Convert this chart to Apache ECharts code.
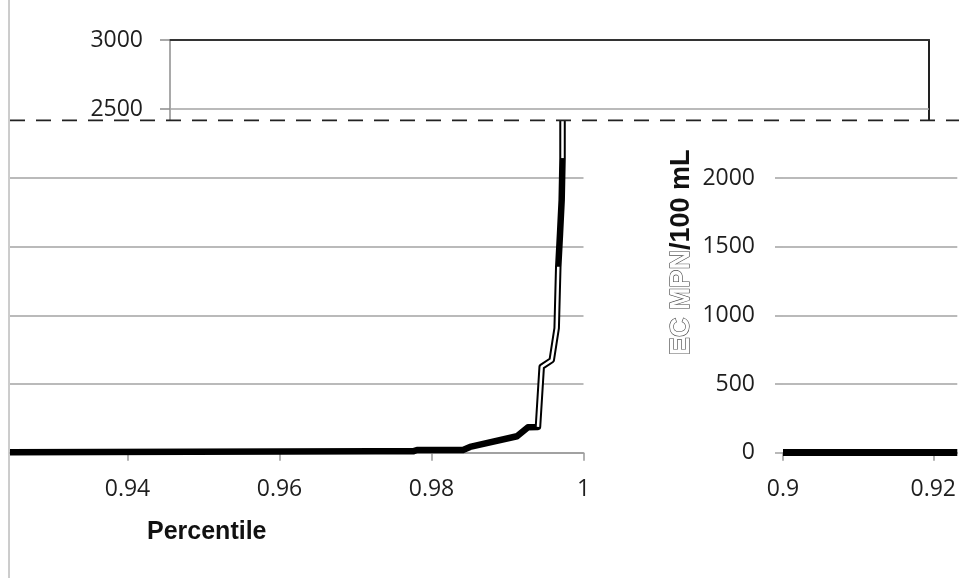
<!DOCTYPE html>
<html>
<head>
<meta charset="utf-8">
<title>EC MPN percentile</title>
<script src="https://cdn.jsdelivr.net/npm/echarts@6/dist/echarts.min.js"></script>
<style>
  html, body { margin: 0; padding: 0; background: #fff; }
  #chart { width: 959px; height: 578px; }
</style>
</head>
<body>
<div id="chart"></div>
<script>
// cumulative curve, percentile vs EC MPN/100 mL
const percentile = [0.92454, 0.97257, 0.97757, 0.97809, 0.98414, 0.98507, 0.99125, 0.99270, 0.99401,
  0.99450, 0.99582, 0.99647, 0.99668, 0.99691, 0.99713, 0.99724, 0.99724];
const ecMpn = [3, 10, 10, 20, 20, 42, 120, 185, 188,
  626, 674, 907, 1354, 1594, 1841, 2145, 2420];

// right hand panel, flat near zero
const rightPercentile = [0.9, 0.9232];
const rightMpn = [1, 1];

// upper detection limit (dashed)
const detectionLimit = 2420;

const leftTicks = [0.94, 0.96, 0.98, 1];
const rightTicks = [0.9, 0.92];
const topTicks = [2500, 3000];

const zip = (xs, ys) => xs.map((x, i) => [x, ys[i]]);
const curve = zip(percentile, ecMpn);

const plain = v => String(v);
const labelFont = { fontFamily: 'Open Sans', fontSize: 23, color: '#1e1e1e', formatter: plain };
const gridGray = '#a3a3a3';

const chart = echarts.init(document.getElementById('chart'));
chart.setOption({
  animation: false,
  backgroundColor: '#fff',
  title: {
    text: 'Percentile',
    left: 142,
    top: 515,
    textStyle: { fontFamily: 'Liberation Sans', fontWeight: 'bold', fontSize: 25, color: '#111' }
  },
  graphic: [{
    type: 'line',
    shape: { x1: 9, y1: 0, x2: 9, y2: 578 },
    style: { stroke: '#9a9a9a', lineWidth: 1 }
  }],
  grid: [
    { left: 10, top: 178, width: 573.5, height: 274.7 },   // left panel
    { left: 783, top: 178, right: 0, height: 274.7 },       // right panel
    { left: 170, top: 40, width: 759, height: 80 },         // top box
    { left: 10, top: 109.3, right: 0, height: 343.4 },      // dashed limit, full width
    { left: 783, top: 46, right: 0, height: 412.7 }         // y axis name
  ],
  xAxis: [
    {
      type: 'value', gridIndex: 0, min: 0.92454, max: 1,
      axisLine: { lineStyle: { color: '#999', width: 1.5 } },
      axisTick: { customValues: leftTicks, length: 8, lineStyle: { color: '#999', width: 1.5 } },
      axisLabel: Object.assign({ customValues: leftTicks, margin: 25 }, labelFont),
      splitLine: { show: false }
    },
    {
      type: 'value', gridIndex: 1, min: 0.9, max: 0.9232,
      axisLine: { lineStyle: { color: '#999', width: 1.5 } },
      axisTick: { customValues: rightTicks, length: 8, lineStyle: { color: '#999', width: 1.5 } },
      axisLabel: Object.assign({ customValues: rightTicks, margin: 25 }, labelFont),
      splitLine: { show: false }
    },
    { type: 'value', gridIndex: 2, min: 0, max: 1, show: false },
    {
      type: 'value', gridIndex: 2, min: 0, max: 1, position: 'top',
      axisLine: { onZero: false, lineStyle: { color: '#333', width: 2 } },
      axisTick: { show: false }, axisLabel: { show: false }, splitLine: { show: false }
    },
    { type: 'value', gridIndex: 3, min: 0, max: 1, show: false },
    { type: 'value', gridIndex: 4, min: 0, max: 1, show: false }
  ],
  yAxis: [
    {
      type: 'value', gridIndex: 0, min: 0, max: 2000, interval: 500,
      axisLine: { show: false }, axisTick: { show: false }, axisLabel: { show: false },
      splitLine: { lineStyle: { color: gridGray, width: 1.5 } }
    },
    {
      type: 'value', gridIndex: 1, min: 0, max: 2000, interval: 500,
      axisLine: { show: false },
      axisTick: { show: true, length: 8, lineStyle: { color: gridGray, width: 1.5 } },
      axisLabel: Object.assign({ margin: 28 }, labelFont),
      splitLine: { lineStyle: { color: gridGray, width: 1.5 } }
    },
    {
      type: 'value', gridIndex: 2, min: 2420, max: 3000,
      axisLine: { show: true, onZero: false, lineStyle: { color: '#8c8c8c', width: 1.5 } },
      axisTick: { show: true, customValues: topTicks, length: 10, lineStyle: { color: '#8c8c8c', width: 1.5 } },
      axisLabel: Object.assign({ customValues: topTicks, margin: 27 }, labelFont),
      splitLine: { show: false }
    },
    {
      type: 'value', gridIndex: 2, min: 2420, max: 3000, position: 'right',
      axisLine: { show: true, onZero: false, lineStyle: { color: '#222', width: 2 } },
      axisTick: { show: false }, axisLabel: { show: false }, splitLine: { show: false }
    },
    { type: 'value', gridIndex: 3, min: 0, max: 2500, show: false },
    {
      type: 'value', gridIndex: 4, min: 0, max: 3000,
      name: '{h|EC MPN}{s|/100 mL}',
      nameLocation: 'middle', nameGap: 88,
      nameTextStyle: {
        rich: {
          h: { fontFamily: 'Liberation Sans', fontWeight: 'bold', fontSize: 27, color: '#fff',
               textBorderColor: '#444', textBorderWidth: 1.2 },
          s: { fontFamily: 'Liberation Sans', fontWeight: 'bold', fontSize: 27, color: '#111' }
        }
      },
      axisLine: { show: false }, axisTick: { show: false }, axisLabel: { show: false },
      splitLine: { show: false }
    }
  ],
  series: [
    {
      type: 'line', xAxisIndex: 0, yAxisIndex: 0, data: curve, clip: false,
      symbol: 'none', z: 3,
      lineStyle: { color: '#000', width: 6.5, join: 'round' }
    },
    {
      // hollow looking stretches of the curve
      type: 'line', xAxisIndex: 0, yAxisIndex: 0, data: curve.slice(8, 13), clip: false,
      symbol: 'none', z: 4,
      lineStyle: { color: '#fff', width: 2.5 }
    },
    {
      type: 'line', xAxisIndex: 0, yAxisIndex: 0, data: curve.slice(15, 17), clip: false,
      symbol: 'none', z: 4,
      lineStyle: { color: '#fff', width: 2.5 }
    },
    {
      type: 'line', xAxisIndex: 1, yAxisIndex: 1, data: zip(rightPercentile, rightMpn),
      symbol: 'none', z: 3,
      lineStyle: { color: '#000', width: 7 }
    },
    {
      type: 'line', xAxisIndex: 2, yAxisIndex: 2, data: [],
      markLine: {
        silent: true, symbol: 'none', label: { show: false },
        lineStyle: { color: gridGray, width: 1.5, type: 'solid' },
        data: [{ yAxis: topTicks[0] }]
      }
    },
    {
      type: 'line', xAxisIndex: 4, yAxisIndex: 4,
      data: [[0, detectionLimit], [1, detectionLimit]],
      symbol: 'none', z: 5,
      lineStyle: { color: '#222', width: 1.8, type: [15, 11] }
    }
  ]
});
</script>
</body>
</html>
